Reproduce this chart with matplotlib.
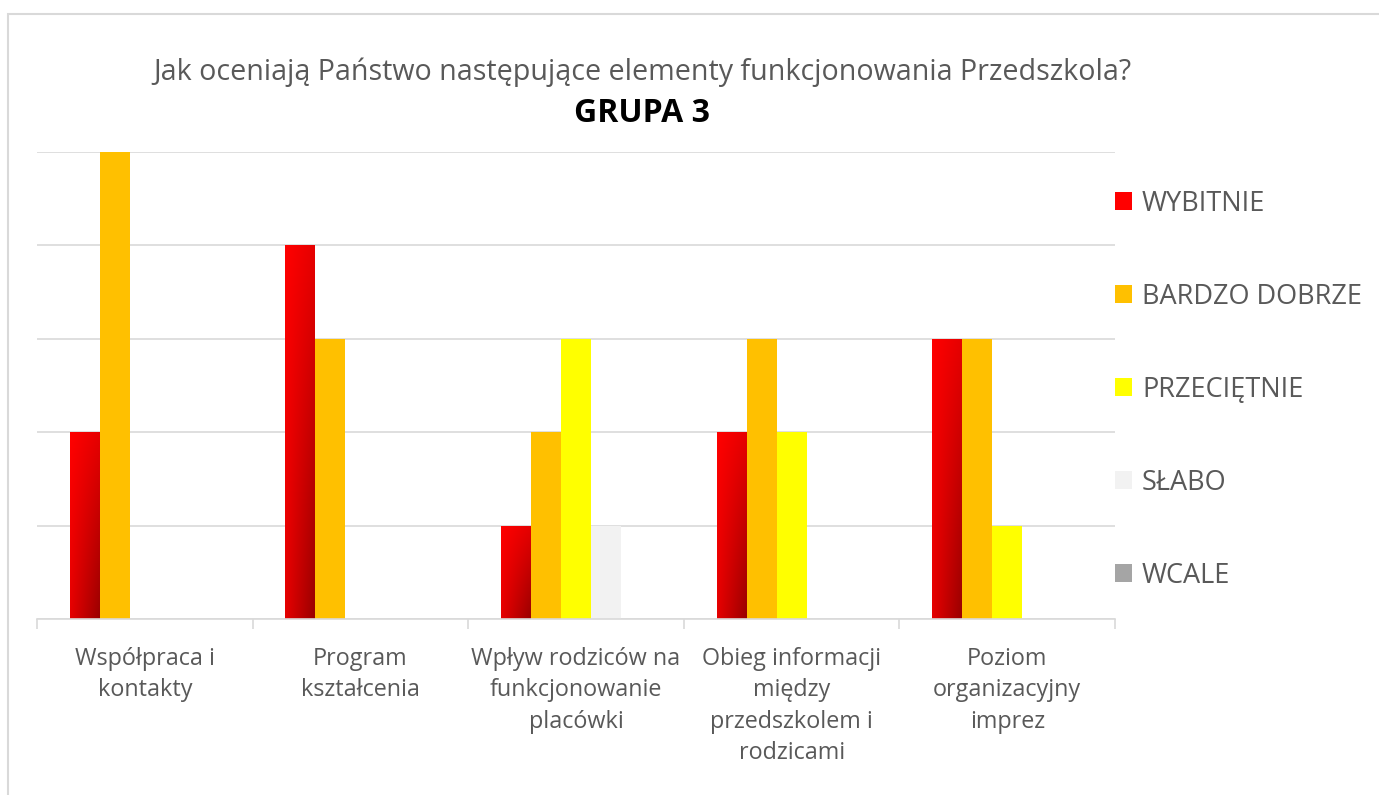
import numpy as np
import matplotlib
matplotlib.use('Agg')
import matplotlib.pyplot as plt
from matplotlib.patches import Rectangle
from matplotlib.colors import LinearSegmentedColormap

plt.rcParams['font.family'] = ['Open Sans', 'DejaVu Sans']

# dane
categories = ['Współpraca i\nkontakty', 'Program\nkształcenia',
              'Wpływ rodziców na\nfunkcjonowanie\nplacówki',
              'Obieg informacji\nmiędzy\nprzedszkolem i\nrodzicami',
              'Poziom\norganizacyjny\nimprez']
series_names = ['WYBITNIE', 'BARDZO DOBRZE', 'PRZECIĘTNIE', 'SŁABO', 'WCALE']
wybitnie = [2, 4, 1, 2, 3]
bardzo_dobrze = [5, 3, 2, 3, 3]
przecietnie = [0, 0, 3, 2, 1]
slabo = [0, 0, 1, 0, 0]
wcale = [0, 0, 0, 0, 0]
colors = ['#ff0000', '#ffc000', '#ffff00', '#f2f2f2', '#a5a5a5']

W, H = 1379, 795
fig = plt.figure(figsize=(W / 100, H / 100), dpi=100)
# ramka wykresu
fig.patches.append(Rectangle((8 / W, -0.05), 1.1, 1.05 - 14 / H, transform=fig.transFigure,
                             fill=False, edgecolor='#d9d9d9', linewidth=1.5))

ax = fig.add_axes([37 / W, 1 - 619 / H, (1115 - 37) / W, (619 - 152) / H])

red_grad = LinearSegmentedColormap.from_list('rg', ['#ff0000', '#9a0000'])
gx, gy = np.meshgrid(np.linspace(0, 1, 50), np.linspace(0, 1, 100))
# gy = 0 na dole
t = 0.25 * gx + 0.25 * (1 - gy) + 0.5 * gx * (1 - gy)

all_series = [wybitnie, bardzo_dobrze, przecietnie, slabo, wcale]
bw = 0.139
x = np.arange(len(categories))
for i, (vals, name, c) in enumerate(zip(all_series, series_names, colors)):
    pos = x + (i - 2) * bw
    bars = ax.bar(pos, vals, width=bw, color=c, label=name, zorder=2)
    if i == 0:
        for b in bars:
            if b.get_height() == 0:
                continue
            im = ax.imshow(t, cmap=red_grad, vmin=0, vmax=1, origin='lower',
                           extent=[b.get_x(), b.get_x() + b.get_width(), 0, b.get_height()],
                           aspect='auto', zorder=2.5)
            im.set_clip_path(b)

ax.set_xlim(-0.5, len(categories) - 0.5)
ax.set_ylim(0, 5)

ax.yaxis.grid(True, color='#d9d9d9', linewidth=1.2, zorder=0)
ax.set_axisbelow(True)
ax.set_yticks(np.arange(0, 6))
ax.tick_params(axis='y', length=0, labelleft=False)
for s in ['top', 'right', 'left']:
    ax.spines[s].set_visible(False)
ax.spines['bottom'].set_color('#d9d9d9')
ax.spines['bottom'].set_linewidth(1.2)

ax.set_xticks(np.arange(-0.5, len(categories)), minor=False)
ax.set_xticklabels([])
ax.tick_params(axis='x', which='major', length=7, color='#d9d9d9', width=1.2)
ax.set_xticks(x, minor=True)
ax.set_xticklabels(categories, minor=True, fontsize=16.8, color='#595959', linespacing=1.42)
ax.tick_params(axis='x', which='minor', length=0, pad=20)

fig.text(0.5 * (155 + 1130) / W, 1 - 72 / H,
         'Jak oceniają Państwo następujące elementy funkcjonowania Przedszkola?',
         ha='center', va='center', fontsize=20.6, color='#595959')
fig.text(0.5 * (155 + 1130) / W, 1 - 114 / H, 'GRUPA 3',
         ha='center', va='center', fontsize=23, fontweight='bold', color='black')

handles, labels = ax.get_legend_handles_labels()
leg = fig.legend(handles, labels, loc='upper left', bbox_to_anchor=(1104 / W, 1 - 179 / H),
                 frameon=False, fontsize=19.5, labelcolor='#595959',
                 handlelength=0.65, handleheight=0.65, handletextpad=0.35,
                 labelspacing=2.4, borderaxespad=0)

fig.savefig('out.png', dpi=100)
